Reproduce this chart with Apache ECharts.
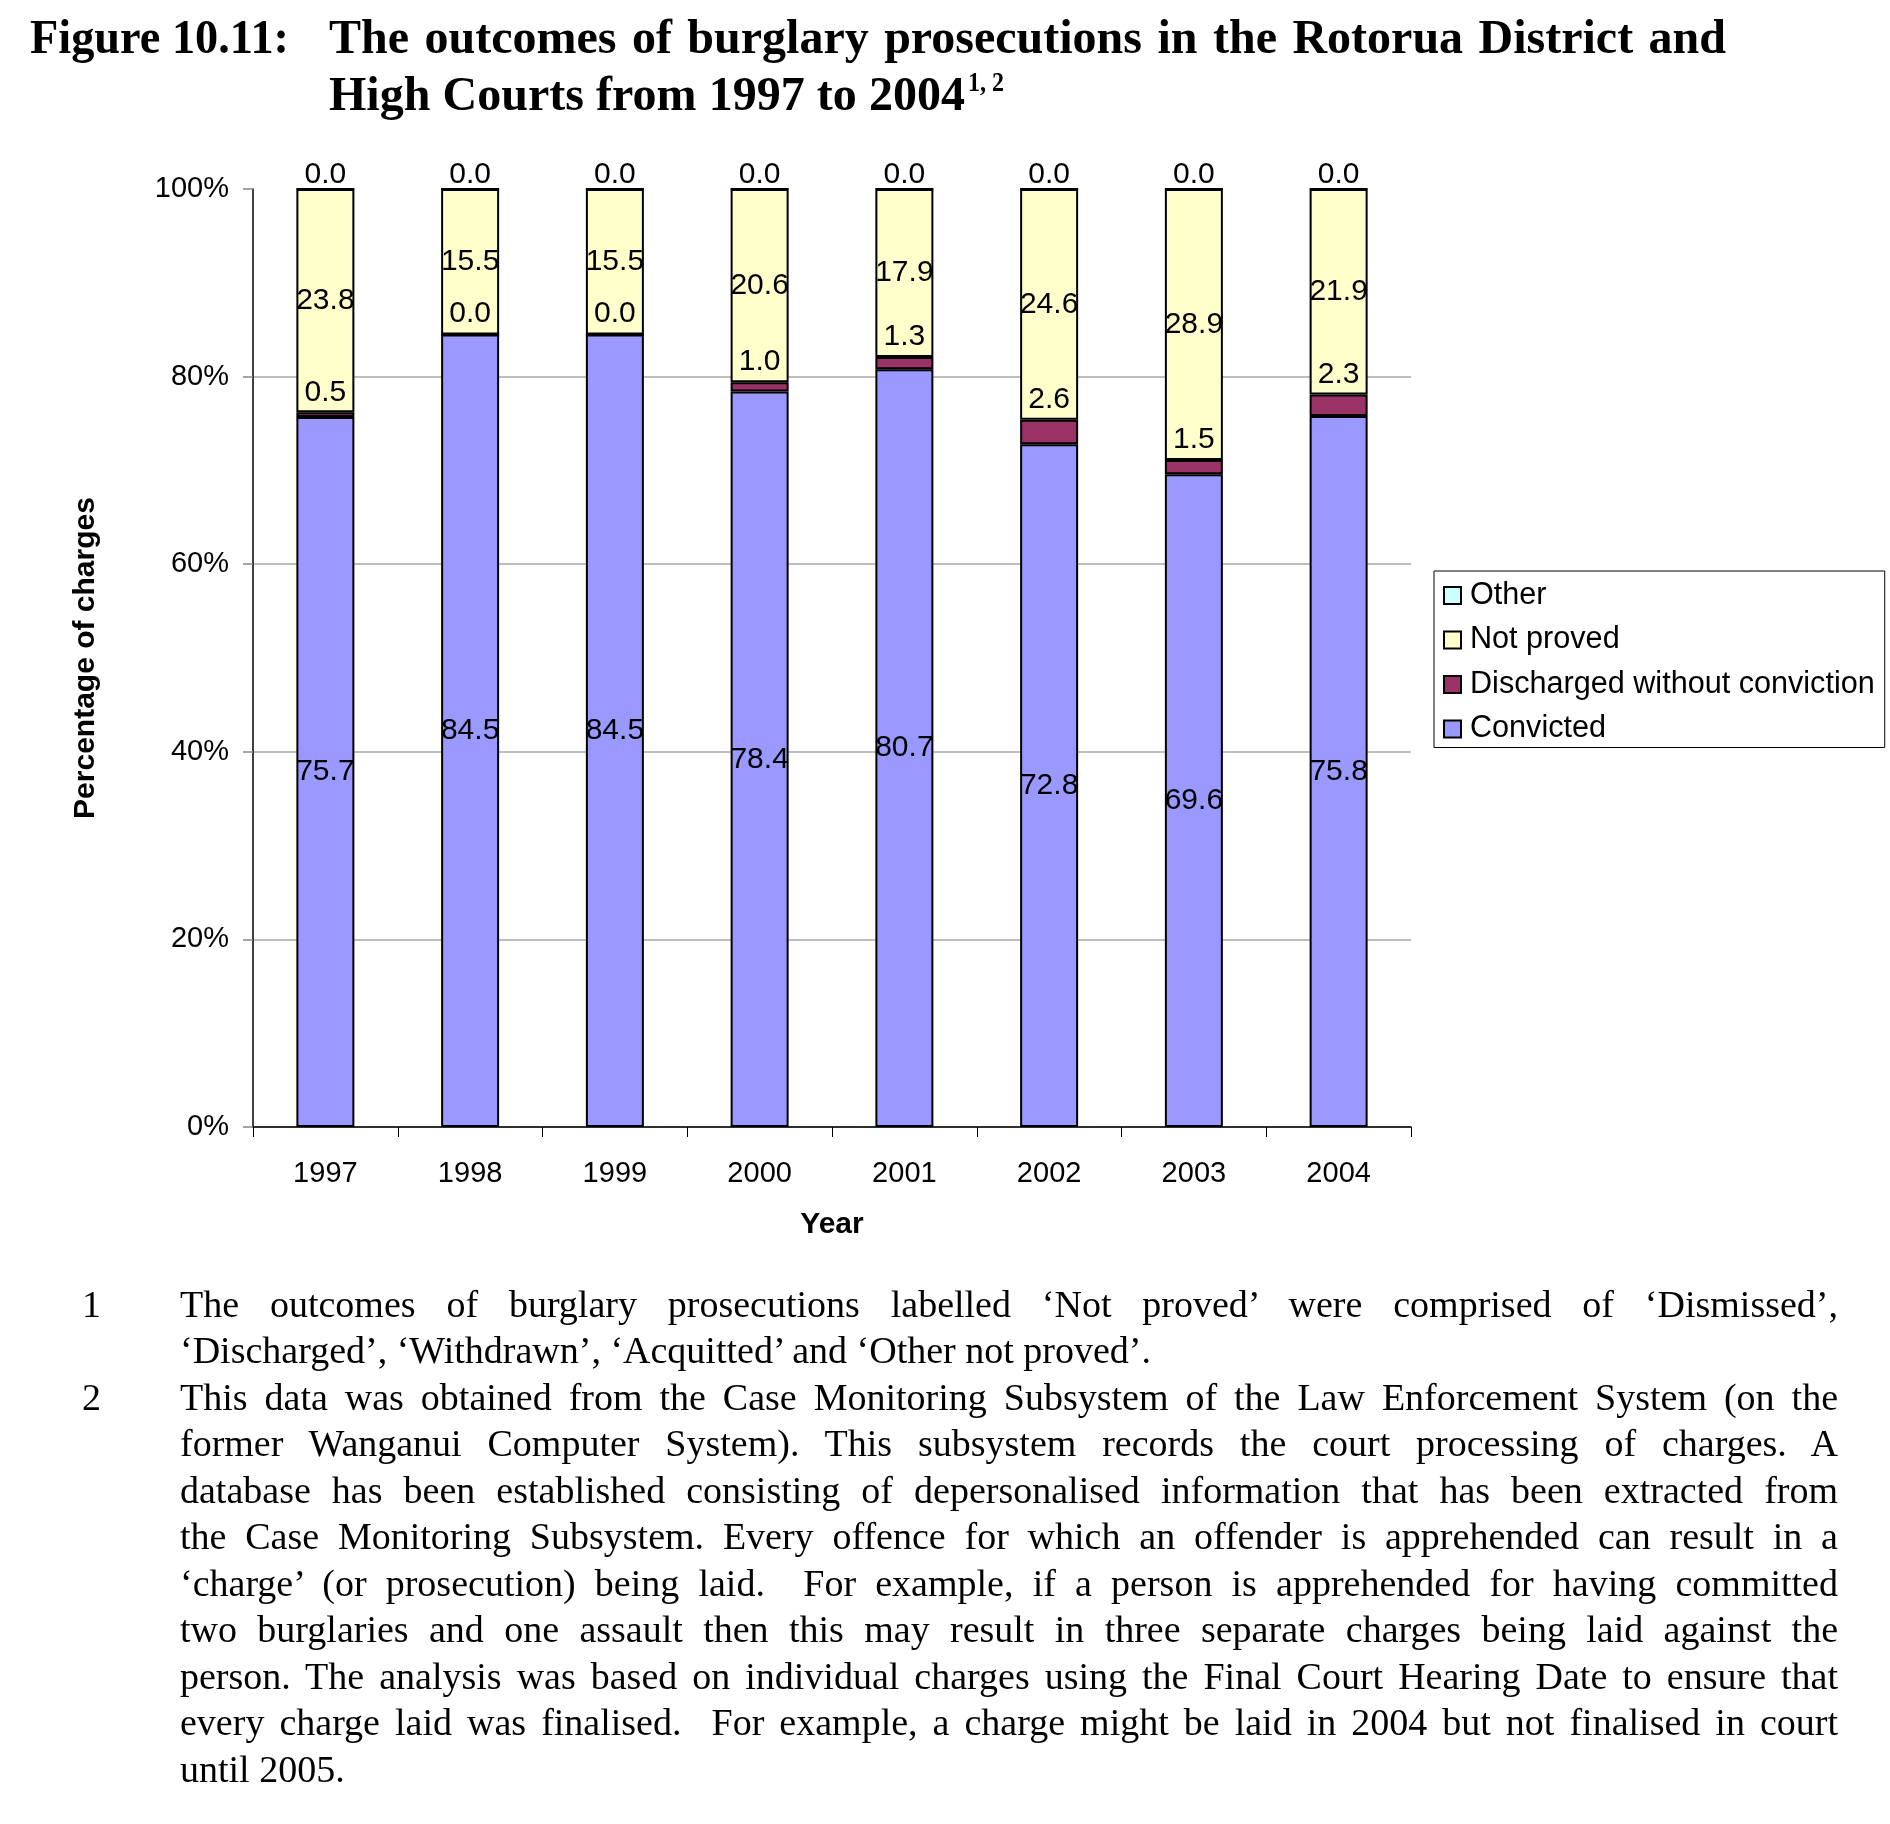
<!DOCTYPE html>
<html>
<head>
<meta charset="utf-8">
<script src="https://cdn.jsdelivr.net/npm/echarts@6/dist/echarts.min.js"></script>
<style>
  html, body { margin: 0; padding: 0; background: #fff; }
  #chart { position: absolute; left: 0; top: 0; width: 1890px; height: 1824px; }
  .ln { position: absolute; white-space: pre; color: #000; font-family: "Liberation Serif", "Times New Roman", serif; transform-origin: 0 0; }
</style>
</head>
<body>
<div id="chart"></div>
<script>
// ---- data ----
const years = ['1997', '1998', '1999', '2000', '2001', '2002', '2003', '2004'];
const convicted  = [75.7, 84.5, 84.5, 78.4, 80.7, 72.8, 69.6, 75.8];
const discharged = [0.5, 0.0, 0.0, 1.0, 1.3, 2.6, 1.5, 2.3];
const notProved  = [23.8, 15.5, 15.5, 20.6, 17.9, 24.6, 28.9, 21.9];
const other      = [0.0, 0.0, 0.0, 0.0, 0.0, 0.0, 0.0, 0.0];
const seriesNames = ['Convicted', 'Discharged without conviction', 'Not proved', 'Other'];
const legendOrder = ['Other', 'Not proved', 'Discharged without conviction', 'Convicted'];
const yTickLabels = ['0%', '20%', '40%', '60%', '80%', '100%'];

const titleLabel = 'Figure 10.11:';
const titleLine1 = 'The outcomes of burglary prosecutions in the Rotorua District and';
const titleLine2 = 'High Courts from 1997 to 2004';
const titleSup = '1, 2';
const notes = [
  { num: '1', lines: [
    'The outcomes of burglary prosecutions labelled \u2018Not proved\u2019 were comprised of \u2018Dismissed\u2019,',
    '\u2018Discharged\u2019, \u2018Withdrawn\u2019, \u2018Acquitted\u2019 and \u2018Other not proved\u2019.'
  ]},
  { num: '2', lines: [
    'This data was obtained from the Case Monitoring Subsystem of the Law Enforcement System (on the',
    'former Wanganui Computer System). This subsystem records the court processing of charges. A',
    'database has been established consisting of depersonalised information that has been extracted from',
    'the Case Monitoring Subsystem. Every offence for which an offender is apprehended can result in a',
    '\u2018charge\u2019 (or prosecution) being laid.  For example, if a person is apprehended for having committed',
    'two burglaries and one assault then this may result in three separate charges being laid against the',
    'person. The analysis was based on individual charges using the Final Court Hearing Date to ensure that',
    'every charge laid was finalised.  For example, a charge might be laid in 2004 but not finalised in court',
    'until 2005.'
  ]}
];

// ---- chart ----
const raw = [convicted, discharged, notProved, other];
const totals = years.map((_, i) => raw.reduce((s, arr) => s + arr[i], 0));
const colors = ['#9999FF', '#993366', '#FFFFCC', '#CCFFFF'];
const labelPos = ['inside', 'top', 'inside', 'top'];
const labelDist = [5, 5, 5, -2];
const SANS = '"Liberation Sans", Arial, sans-serif';

const series = raw.map((arr, k) => ({
  name: seriesNames[k],
  type: 'bar',
  stack: 'total',
  barWidth: 58,
  clip: false,
  z: 3,
  data: arr.map((v, i) => ({ value: Math.round(v / totals[i] * 1e8) / 1e6, raw: v })),
  itemStyle: { color: colors[k], borderColor: '#000', borderWidth: 2 },
  label: {
    show: true,
    position: labelPos[k],
    distance: labelDist[k],
    color: '#000',
    fontFamily: SANS,
    fontSize: 30,
    formatter: p => p.data.raw.toFixed(1)
  },
  emphasis: { disabled: true }
}));

const chart = echarts.init(document.getElementById('chart'), null, { renderer: 'canvas' });
chart.setOption({
  animation: false,
  backgroundColor: 'rgba(0,0,0,0)',
  grid: { left: 253, right: 479, top: 189, bottom: 697, containLabel: false },
  legend: {
    data: legendOrder,
    orient: 'vertical',
    left: 1434,
    top: 571,
    icon: 'rect',
    itemWidth: 17,
    itemHeight: 17,
    itemGap: 13.5,
    padding: [9, 10, 3, 9],
    borderColor: '#000',
    borderWidth: 1,
    backgroundColor: '#fff',
    selectedMode: false,
    itemStyle: { borderColor: '#000', borderWidth: 2 },
    textStyle: { fontFamily: SANS, fontSize: 30.6, color: '#000', lineHeight: 30, padding: [0, 0, 0, 4] }
  },
  xAxis: {
    type: 'category',
    data: years,
    name: 'Year',
    nameLocation: 'middle',
    nameGap: 83,
    nameTextStyle: { fontFamily: SANS, fontSize: 30, fontWeight: 'bold', color: '#000' },
    axisLine: { lineStyle: { color: '#000', width: 1.5 } },
    axisTick: { show: true, length: 10, lineStyle: { color: '#000', width: 1 } },
    axisLabel: { fontFamily: SANS, fontSize: 29, color: '#000', margin: 32 },
    splitLine: { show: false }
  },
  yAxis: {
    type: 'value',
    min: 0,
    max: 100,
    interval: 20,
    name: 'Percentage of charges',
    nameLocation: 'middle',
    nameGap: 152,
    nameTextStyle: { fontFamily: SANS, fontSize: 30, fontWeight: 'bold', color: '#000' },
    axisLine: { show: true, lineStyle: { color: '#000', width: 1.5 } },
    axisTick: { show: true, length: 10, lineStyle: { color: '#888', width: 1.5 } },
    axisLabel: {
      fontFamily: SANS, fontSize: 29, color: '#000', margin: 24,
      formatter: (v) => yTickLabels[Math.round(v / 20)]
    },
    splitLine: { show: true, lineStyle: { color: ['#a8a8a8', '#a8a8a8', '#a8a8a8', '#a8a8a8', '#a8a8a8', 'rgba(0,0,0,0)'], width: 1.5 } }
  },
  series: series
});

// ---- title and footnotes (text) ----
function addLine(text, left, baseline, F, L, opts) {
  opts = opts || {};
  const d = document.createElement('div');
  d.className = 'ln';
  d.textContent = text;
  d.style.left = left + 'px';
  d.style.fontSize = F + 'px';
  d.style.lineHeight = L + 'px';
  d.style.fontWeight = opts.bold ? 'bold' : 'normal';
  d.style.top = (baseline - (L / 2 + 0.3375 * F)) + 'px';
  document.body.appendChild(d);
  const w = d.getBoundingClientRect().width;
  if (opts.width) {
    const spaces = (text.match(/ /g) || []).length;
    if (opts.justify && w < opts.width && spaces > 0) {
      d.style.wordSpacing = ((opts.width - w) / spaces) + 'px';
    } else if (w > opts.width || opts.fit) {
      d.style.transform = 'scaleX(' + (opts.width / w) + ')';
    }
  }
  return d;
}

addLine(titleLabel, 30, 53, 48, 58, { bold: true, width: 259, fit: true });
addLine(titleLine1, 329, 53, 48, 58, { bold: true, width: 1397, justify: true });
addLine(titleLine2, 329, 110, 48, 58, { bold: true, width: 636, justify: true });
addLine(titleSup, 968, 91, 28, 34, { bold: true, width: 36, fit: true });

const FN = 38, LH = 46.5, firstBase = 1317, textLeft = 180, textW = 1658;
let row = 0;
notes.forEach(n => {
  addLine(n.num, 82, firstBase + row * LH, FN, LH, {});
  n.lines.forEach((t, j) => {
    const last = j === n.lines.length - 1;
    addLine(t, textLeft, firstBase + row * LH, FN, LH, last ? { width: textW } : { width: textW, justify: true });
    row++;
  });
});
</script>
</body>
</html>
